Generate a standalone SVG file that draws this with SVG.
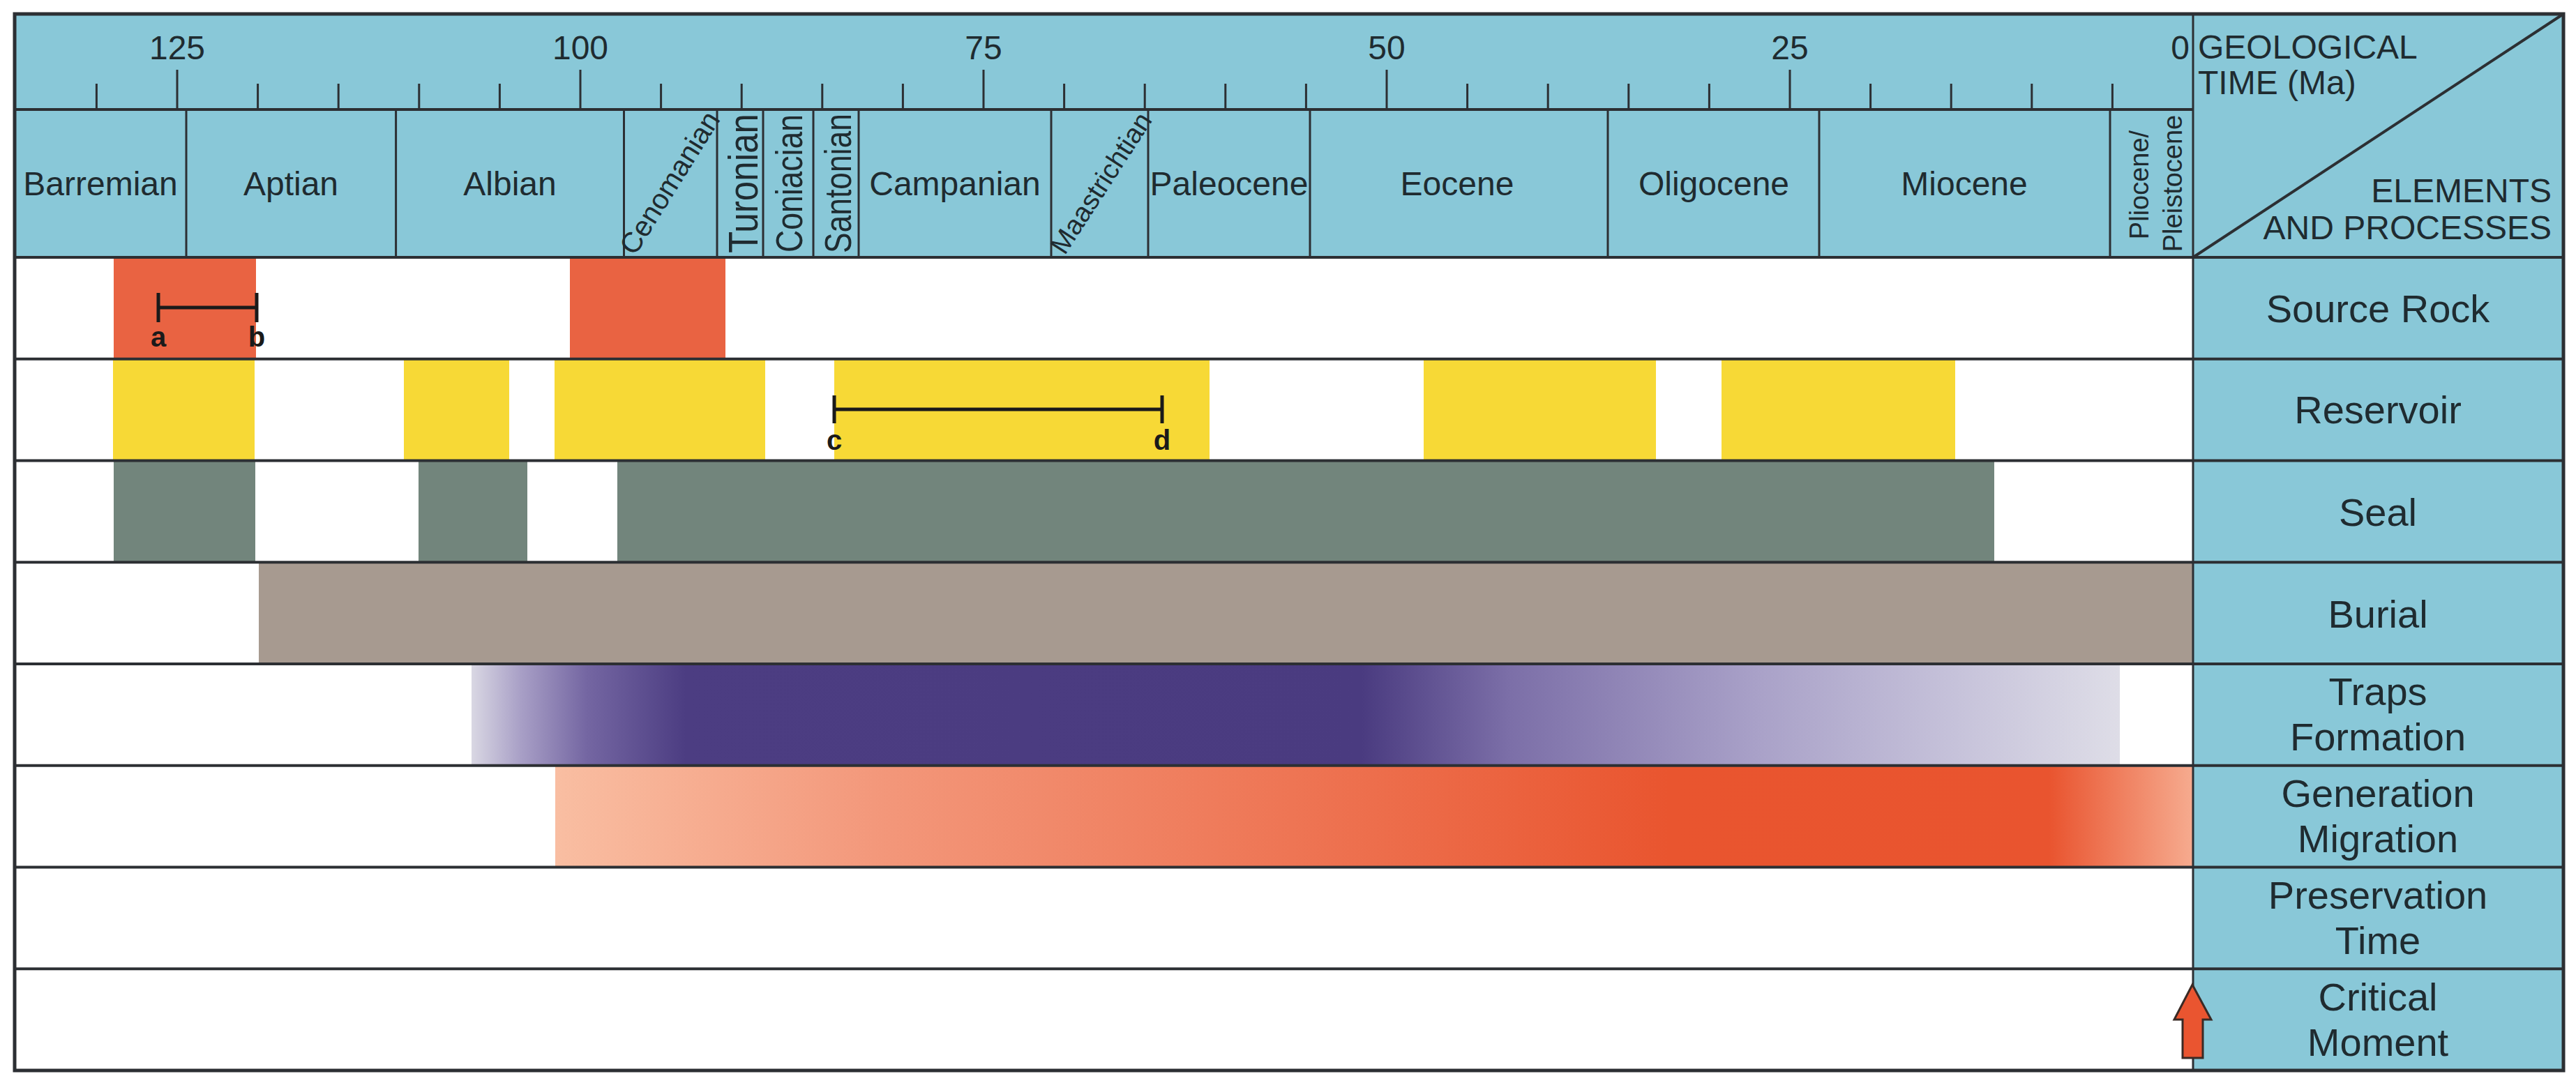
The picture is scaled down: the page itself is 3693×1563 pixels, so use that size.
<svg xmlns="http://www.w3.org/2000/svg" width="3693" height="1563" viewBox="0 0 3693 1563">
<defs>
<style>
.t{font-family:"Liberation Sans",Arial,sans-serif;fill:#1f2b30;}
.num{font-size:48px;text-anchor:middle;}
.stg{font-size:48px;text-anchor:middle;}
.lbl{font-size:56px;text-anchor:middle;}
.hd{font-size:48px;}
.ab{font-size:40px;font-weight:bold;text-anchor:middle;fill:#1a1a1a;}
.ln{stroke:#2c2f33;fill:none;}
.h{stroke-width:4;}
.v{stroke-width:3;}
.tick{stroke:#2c2f33;stroke-width:3;}
.bar{stroke:#1a1a1a;stroke-width:5;}
.blue{fill:#89C8D8;}
.src{fill:#E96342;}
.res{fill:#F7D936;}
.seal{fill:#72857C;}
.bur{fill:#A79A90;}
</style>
<linearGradient id="gTrap" x1="676" y1="0" x2="3039" y2="0" gradientUnits="userSpaceOnUse">
<stop offset="0" stop-color="#D9D7E3"/>
<stop offset="0.03" stop-color="#A89FC6"/>
<stop offset="0.07" stop-color="#7466A2"/>
<stop offset="0.13" stop-color="#4C3D82"/>
<stop offset="0.54" stop-color="#4A3B80"/>
<stop offset="0.63" stop-color="#7C6FA8"/>
<stop offset="0.78" stop-color="#A9A1C8"/>
<stop offset="0.9" stop-color="#C6C2DA"/>
<stop offset="1" stop-color="#DEDDE7"/>
</linearGradient>
<linearGradient id="gGen" x1="796" y1="0" x2="3144" y2="0" gradientUnits="userSpaceOnUse">
<stop offset="0" stop-color="#F9BEA2"/>
<stop offset="0.2" stop-color="#F3977A"/>
<stop offset="0.45" stop-color="#EE7554"/>
<stop offset="0.68" stop-color="#E9552F"/>
<stop offset="0.912" stop-color="#E9542F"/>
<stop offset="1" stop-color="#F6AB8F"/>
</linearGradient>
</defs>

<rect x="0" y="0" width="3693" height="1563" fill="#ffffff"/>

<g id="header">
<rect class="blue" x="21" y="20" width="3654" height="349"/>
<g id="ticks">
<line class="tick" x1="138.4" y1="120" x2="138.4" y2="157"/>
<line class="tick" x1="254" y1="100" x2="254" y2="157"/>
<line class="tick" x1="369.6" y1="120" x2="369.6" y2="157"/>
<line class="tick" x1="485.2" y1="120" x2="485.2" y2="157"/>
<line class="tick" x1="600.8" y1="120" x2="600.8" y2="157"/>
<line class="tick" x1="716.4" y1="120" x2="716.4" y2="157"/>
<line class="tick" x1="832" y1="100" x2="832" y2="157"/>
<line class="tick" x1="947.6" y1="120" x2="947.6" y2="157"/>
<line class="tick" x1="1063.2" y1="120" x2="1063.2" y2="157"/>
<line class="tick" x1="1178.8" y1="120" x2="1178.8" y2="157"/>
<line class="tick" x1="1294.4" y1="120" x2="1294.4" y2="157"/>
<line class="tick" x1="1410" y1="100" x2="1410" y2="157"/>
<line class="tick" x1="1525.6" y1="120" x2="1525.6" y2="157"/>
<line class="tick" x1="1641.2" y1="120" x2="1641.2" y2="157"/>
<line class="tick" x1="1756.8" y1="120" x2="1756.8" y2="157"/>
<line class="tick" x1="1872.4" y1="120" x2="1872.4" y2="157"/>
<line class="tick" x1="1988" y1="100" x2="1988" y2="157"/>
<line class="tick" x1="2103.6" y1="120" x2="2103.6" y2="157"/>
<line class="tick" x1="2219.2" y1="120" x2="2219.2" y2="157"/>
<line class="tick" x1="2334.8" y1="120" x2="2334.8" y2="157"/>
<line class="tick" x1="2450.4" y1="120" x2="2450.4" y2="157"/>
<line class="tick" x1="2566" y1="100" x2="2566" y2="157"/>
<line class="tick" x1="2681.6" y1="120" x2="2681.6" y2="157"/>
<line class="tick" x1="2797.2" y1="120" x2="2797.2" y2="157"/>
<line class="tick" x1="2912.8" y1="120" x2="2912.8" y2="157"/>
<line class="tick" x1="3028.4" y1="120" x2="3028.4" y2="157"/>
</g>
<g id="scale-labels">
<text class="t num" x="254" y="85">125</text>
<text class="t num" x="832" y="85">100</text>
<text class="t num" x="1410" y="85">75</text>
<text class="t num" x="1988" y="85">50</text>
<text class="t num" x="2566" y="85">25</text>
<text class="t num" x="3139" y="85" style="text-anchor:end">0</text>
</g>
<line class="ln h" x1="21" y1="157" x2="3144" y2="157"/>
<g id="stage-lines">
<line class="ln v" x1="267" y1="157" x2="267" y2="369"/>
<line class="ln v" x1="567.6" y1="157" x2="567.6" y2="369"/>
<line class="ln v" x1="894.5" y1="157" x2="894.5" y2="369"/>
<line class="ln v" x1="1028" y1="157" x2="1028" y2="369"/>
<line class="ln v" x1="1094" y1="157" x2="1094" y2="369"/>
<line class="ln v" x1="1166" y1="157" x2="1166" y2="369"/>
<line class="ln v" x1="1231" y1="157" x2="1231" y2="369"/>
<line class="ln v" x1="1507" y1="157" x2="1507" y2="369"/>
<line class="ln v" x1="1646" y1="157" x2="1646" y2="369"/>
<line class="ln v" x1="1878" y1="157" x2="1878" y2="369"/>
<line class="ln v" x1="2305" y1="157" x2="2305" y2="369"/>
<line class="ln v" x1="2608" y1="157" x2="2608" y2="369"/>
<line class="ln v" x1="3025" y1="157" x2="3025" y2="369"/>
</g>
<g id="stage-labels">
<text class="t stg" x="144" y="280">Barremian</text>
<text class="t stg" x="417" y="280">Aptian</text>
<text class="t stg" x="731" y="280">Albian</text>
<text class="t" font-size="41" text-anchor="middle" transform="translate(960,262) rotate(-58)" y="14">Cenomanian</text>
<text class="t" font-size="60" text-anchor="middle" textLength="200" lengthAdjust="spacingAndGlyphs" transform="translate(1086,263) rotate(-90)">Turonian</text>
<text class="t" font-size="54" text-anchor="middle" textLength="198" lengthAdjust="spacingAndGlyphs" transform="translate(1150,263) rotate(-90)">Coniacian</text>
<text class="t" font-size="54" text-anchor="middle" textLength="200" lengthAdjust="spacingAndGlyphs" transform="translate(1220,263) rotate(-90)">Santonian</text>
<text class="t stg" x="1369" y="280">Campanian</text>
<text class="t" font-size="39" text-anchor="middle" transform="translate(1578,262) rotate(-57)" y="14">Maastrichtian</text>
<text class="t stg" x="1762" y="280">Paleocene</text>
<text class="t stg" x="2089" y="280">Eocene</text>
<text class="t stg" x="2457" y="280">Oligocene</text>
<text class="t stg" x="2816" y="280">Miocene</text>
<text class="t" font-size="38" text-anchor="middle" transform="translate(3080,265) rotate(-90)">Pliocene/</text>
<text class="t" font-size="38" text-anchor="middle" transform="translate(3128,263) rotate(-90)">Pleistocene</text>
</g>
<g id="corner-cell">
<line class="ln h" x1="3144" y1="369" x2="3675" y2="20"/>
<text class="t hd" x="3151" y="84">GEOLOGICAL</text>
<text class="t hd" x="3151" y="135">TIME (Ma)</text>
<text class="t hd" x="3658" y="290" text-anchor="end">ELEMENTS</text>
<text class="t hd" x="3658" y="343" text-anchor="end">AND PROCESSES</text>
</g>
</g>

<g id="right-column">
<rect class="blue" x="3144" y="369" width="531" height="1166"/>
</g>

<g id="row-source-rock">
<rect class="src" x="163" y="369" width="204" height="146"/>
<rect class="src" x="817" y="369" width="223" height="146"/>
<g id="scale-ab">
<line class="bar" x1="227" y1="441" x2="368" y2="441"/>
<line class="bar" x1="227" y1="420" x2="227" y2="462"/>
<line class="bar" x1="368" y1="420" x2="368" y2="462"/>
<text class="t ab" x="227" y="497">a</text>
<text class="t ab" x="368" y="497">b</text>
</g>
<text class="t lbl" x="3409" y="462">Source Rock</text>
</g>

<g id="row-reservoir">
<rect class="res" x="162" y="515" width="203" height="146"/>
<rect class="res" x="579" y="515" width="151" height="146"/>
<rect class="res" x="795" y="515" width="302" height="146"/>
<rect class="res" x="1196" y="515" width="538" height="146"/>
<rect class="res" x="2041" y="515" width="333" height="146"/>
<rect class="res" x="2468" y="515" width="335" height="146"/>
<g id="scale-cd">
<line class="bar" x1="1196" y1="587" x2="1666" y2="587"/>
<line class="bar" x1="1196" y1="567" x2="1196" y2="607"/>
<line class="bar" x1="1666" y1="567" x2="1666" y2="607"/>
<text class="t ab" x="1196" y="645">c</text>
<text class="t ab" x="1666" y="645">d</text>
</g>
<text class="t lbl" x="3409" y="607">Reservoir</text>
</g>

<g id="row-seal">
<rect class="seal" x="163" y="660" width="203" height="146"/>
<rect class="seal" x="600" y="660" width="156" height="146"/>
<rect class="seal" x="885" y="660" width="1974" height="146"/>
<text class="t lbl" x="3409" y="754">Seal</text>
</g>

<g id="row-burial">
<rect class="bur" x="371" y="806" width="2773" height="146"/>
<text class="t lbl" x="3409" y="900">Burial</text>
</g>

<g id="row-traps">
<rect fill="url(#gTrap)" x="676" y="952" width="2363" height="146"/>
<text class="t lbl" x="3409" y="1011">Traps</text>
<text class="t lbl" x="3409" y="1076">Formation</text>
</g>

<g id="row-generation">
<rect fill="url(#gGen)" x="796" y="1098" width="2348" height="146"/>
<text class="t lbl" x="3409" y="1157">Generation</text>
<text class="t lbl" x="3409" y="1222">Migration</text>
</g>

<g id="row-preservation">
<text class="t lbl" x="3409" y="1303">Preservation</text>
<text class="t lbl" x="3409" y="1368">Time</text>
</g>

<g id="row-critical">
<text class="t lbl" x="3409" y="1449">Critical</text>
<text class="t lbl" x="3409" y="1514">Moment</text>
</g>

<g id="grid">
<line class="ln h" x1="21" y1="369" x2="3675" y2="369"/>
<line class="ln h" x1="21" y1="514.75" x2="3675" y2="514.75"/>
<line class="ln h" x1="21" y1="660.5" x2="3675" y2="660.5"/>
<line class="ln h" x1="21" y1="806.25" x2="3675" y2="806.25"/>
<line class="ln h" x1="21" y1="952" x2="3675" y2="952"/>
<line class="ln h" x1="21" y1="1097.75" x2="3675" y2="1097.75"/>
<line class="ln h" x1="21" y1="1243.5" x2="3675" y2="1243.5"/>
<line class="ln h" x1="21" y1="1389.25" x2="3675" y2="1389.25"/>
<line class="ln v" x1="3144" y1="20" x2="3144" y2="1535"/>
<rect class="ln" x="21" y="20" width="3654" height="1515" stroke-width="5"/>
</g>

<g id="connectors">
<path id="critical-moment-arrow" d="M3143,1412 L3170,1462 L3158,1462 L3158,1517 L3129,1517 L3129,1462 L3117,1462 Z" fill="#EA5530" stroke="#3a2a25" stroke-width="3" stroke-linejoin="miter"/>
</g>
</svg>
